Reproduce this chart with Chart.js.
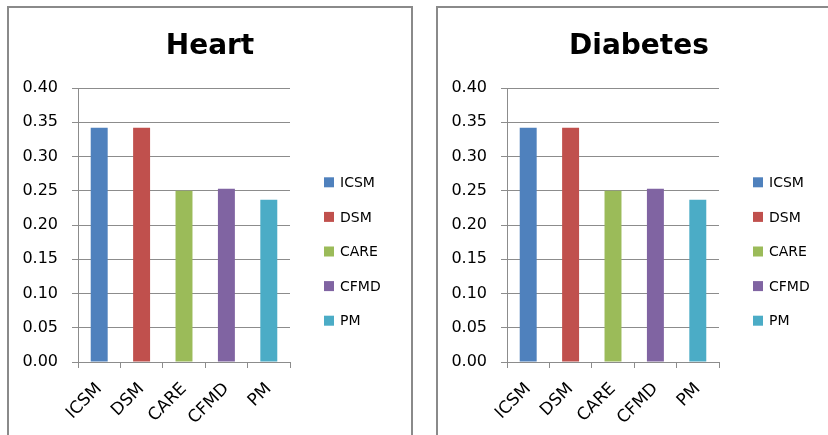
<!DOCTYPE html>
<html>
<head>
<meta charset="utf-8">
<script src="https://cdn.jsdelivr.net/npm/chart.js@4.4.1/dist/chart.umd.min.js"></script>
<style>
  body { margin: 0; background: #fff; width: 828px; height: 435px; overflow: hidden; position: relative; }
  .panel { position: absolute; top: 6px; width: 402px; height: 440px; border: 2px solid #8a8a8a; background: #fff; }
  .panel canvas { display: block; }
</style>
</head>
<body>
<div class="panel" style="left:7px"><canvas id="heart" width="402" height="427"></canvas></div>
<div class="panel" style="left:436px"><canvas id="diabetes" width="402" height="427"></canvas></div>
<script>
const methods = ['ICSM', 'DSM', 'CARE', 'CFMD', 'PM'];
const heartScores = [0.342, 0.342, 0.250, 0.253, 0.237];
const diabetesScores = [0.342, 0.342, 0.250, 0.253, 0.237];
const yTickValues = [0, 0.05, 0.10, 0.15, 0.20, 0.25, 0.30, 0.35, 0.40];

const methodColors = ['#4F81BD', '#C0504D', '#9BBB59', '#8064A2', '#4BACC6'];
const FONT = '"DejaVu Sans", sans-serif';
const axisGray = '#8c8c8c';

// legend on the right, one entry per category (Excel "vary colors by point").
// registered as a layout box so the title still centres on the whole canvas
const sideLegend = {
  id: 'sideLegend',
  beforeInit(chart) {
    const box = {
      position: 'right',
      weight: 1000,
      fullSize: false,
      options: {},
      isHorizontal: () => false,
      getPadding: () => ({ left: 0, top: 0, right: 0, bottom: 0 }),
      update(maxWidth, maxHeight) {
        this.width = 121;
        this.height = maxHeight;
      },
      draw() {
        const opts = chart.options.plugins.sideLegend;
        const { ctx } = chart;
        const colors = chart.data.datasets[0].backgroundColor;
        ctx.save();
        ctx.font = '14px ' + FONT;
        ctx.textBaseline = 'middle';
        chart.data.labels.forEach((label, i) => {
          const y = opts.top + i * opts.gap;
          ctx.fillStyle = colors[i];
          ctx.fillRect(opts.x, y - 5, 10, 10);
          ctx.fillStyle = '#000';
          ctx.fillText(label, opts.x + 16, y + 1);
        });
        ctx.restore();
      }
    };
    Chart.layouts.addBox(chart, box);
  }
};

function makeChart(id, title, scores) {
  const ctx = document.getElementById(id).getContext('2d');
  return new Chart(ctx, {
    type: 'bar',
    data: {
      labels: methods,
      datasets: [{
        label: title,
        data: scores,
        backgroundColor: methodColors,
        borderWidth: 0,
        barPercentage: 0.4,
        categoryPercentage: 1
      }]
    },
    options: {
      responsive: false,
      animation: false,
      layout: { padding: 0 },
      plugins: {
        legend: { display: false },
        tooltip: { enabled: false },
        title: {
          display: true,
          text: title,
          color: '#000',
          font: { family: FONT, size: 28, weight: 'bold', lineHeight: 1.2 },
          padding: { top: 22, bottom: 24.4 }
        },
        sideLegend: { x: 315, top: 174.3, gap: 34.6 }
      },
      scales: {
        x: {
          afterFit: (s) => { s.height = 73; },
          grid: {
            offset: true,
            drawOnChartArea: false,
            drawTicks: true,
            tickLength: 6,
            color: axisGray
          },
          border: { color: axisGray, width: 1 },
          ticks: {
            color: '#000',
            font: { family: FONT, size: 17 },
            minRotation: 45,
            maxRotation: 45,
            padding: 11
          }
        },
        y: {
          min: 0,
          max: 0.4,
          afterFit: (s) => { s.width = 69; },
          afterBuildTicks: (s) => { s.ticks = yTickValues.map(v => ({ value: v })); },
          grid: { color: axisGray, tickLength: 6, drawTicks: true },
          border: { color: axisGray, width: 1 },
          ticks: {
            color: '#000',
            font: { family: FONT, size: 16 },
            padding: 14,
            callback: (v) => Number(v).toFixed(2)
          }
        }
      }
    },
    plugins: [sideLegend]
  });
}

makeChart('heart', 'Heart', heartScores);
makeChart('diabetes', 'Diabetes', diabetesScores);
</script>
</body>
</html>
